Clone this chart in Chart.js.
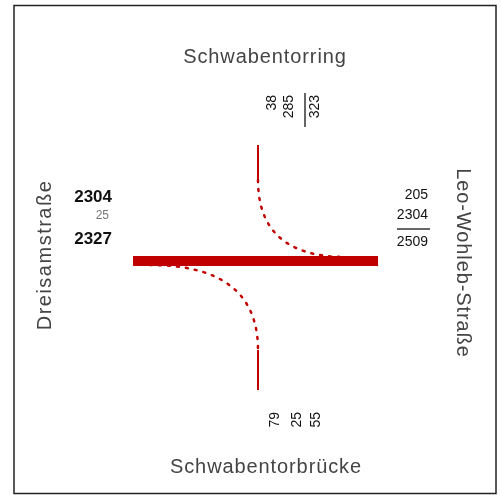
<!DOCTYPE html>
<html>
<head>
<meta charset="utf-8">
<script src="https://cdn.jsdelivr.net/npm/chart.js@4/dist/chart.umd.min.js"></script>
<style>
  html, body { margin: 0; padding: 0; background: #fff; }
  canvas { display: block; }
</style>
</head>
<body>
<canvas id="flowChart" width="502" height="498"></canvas>
<script>
// street arms: north, east, south, west
const arms = ["Schwabentorring", "Leo-Wohleb-Straße", "Schwabentorbrücke", "Dreisamstraße"];

// counts shown next to each arm
const northCounts = ["38", "285", "323"];
const eastCounts = ["205", "2304", "2509"];
const southCounts = ["79", "25", "55"];
const westCounts = ["2304", "25", "2327"];

// turning flows
const flowFrom = ["Dreisamstraße", "Schwabentorring", "Dreisamstraße"];
const flowTo = ["Leo-Wohleb-Straße", "Leo-Wohleb-Straße", "Schwabentorbrücke"];
const flowValue = [2304, 205, 25];

// layout (pixels, y down)
const centre = { x: 258, y: 261 };
const armEnd = {
	"Schwabentorring": [0, -116],
	"Leo-Wohleb-Straße": [120, 0],
	"Schwabentorbrücke": [0, 129],
	"Dreisamstraße": [-125, 0],
};
// radius along the from-arm, radius along the to-arm, lane shift of the corner
const turnShape = {
	"Schwabentorring>Leo-Wohleb-Straße": [81, 88, [0, -4]],
	"Dreisamstraße>Schwabentorbrücke": [108, 89, [0, 4]],
};
const red = "#c00000";
const maxWidth = 10;

function unit(v) {
	const len = Math.hypot(v[0], v[1]);
	return [v[0] / len, v[1] / len];
}

function pt(dx, dy) {
	return { x: centre.x + dx, y: centre.y + dy };
}

const datasets = [];
flowValue.forEach((value, i) => {
	const from = flowFrom[i];
	const to = flowTo[i];
	const width = Math.max(2, (value / flowValue[0]) * maxWidth);
	const a = armEnd[from];
	const b = armEnd[to];
	const base = { showLine: true, pointRadius: 0, borderColor: red, borderWidth: width, fill: false };
	if (a[0] * b[0] + a[1] * b[1] < 0) {
		datasets.push({ ...base, data: [pt(a[0], a[1]), pt(b[0], b[1])], order: 0 });
		return;
	}
	const [r1, r2, shift] = turnShape[from + ">" + to];
	const u = unit(a);
	const v = unit(b);
	// shift the path sideways on the arm it runs parallel to the bar
	const p1 = [u[0] * r1 + (u[0] ? shift[0] : 0), u[1] * r1 + (u[0] ? shift[1] : 0)];
	const p2 = [v[0] * r2 + (v[0] ? shift[0] : 0), v[1] * r2 + (v[0] ? shift[1] : 0)];
	const c = shift;
	datasets.push({ ...base, data: [pt(a[0], a[1]), pt(p1[0], p1[1])], order: 2 });
	datasets.push({ ...base, data: [pt(p2[0], p2[1]), pt(b[0], b[1])], order: 2 });
	// curved turn (quadratic bezier through the corner)
	const curve = [];
	for (let k = 0; k <= 40; k++) {
		const t = k / 40;
		const x = (1 - t) * (1 - t) * p1[0] + 2 * (1 - t) * t * c[0] + t * t * p2[0];
		const y = (1 - t) * (1 - t) * p1[1] + 2 * (1 - t) * t * c[1] + t * t * p2[1];
		curve.push(pt(x, y));
	}
	datasets.push({ ...base, data: curve, borderWidth: 2.5, borderDash: [2, 7], borderCapStyle: "round", order: 1 });
});

const labelPlugin = {
	id: "labels",
	afterDatasetsDraw(chart) {
		const ctx = chart.ctx;
		ctx.save();
		// frame
		ctx.strokeStyle = "#222";
		ctx.lineWidth = 1.5;
		ctx.strokeRect(14, 5.5, 482, 488);

		function text(str, x, y, angle, align, font, color, spacing) {
			ctx.save();
			ctx.translate(x, y);
			ctx.rotate(angle);
			ctx.font = font;
			ctx.fillStyle = color;
			ctx.textAlign = align;
			ctx.textBaseline = "middle";
			ctx.letterSpacing = spacing || "0px";
			ctx.fillText(str, 0, 0);
			ctx.restore();
		}
		const nameFont = '20px "Liberation Sans", Arial, sans-serif';
		const grey = "#444";
		text(arms[0], 265, 57, 0, "center", nameFont, grey, "0.9px");
		text(arms[1], 463, 263, Math.PI / 2, "center", nameFont, grey, "0.9px");
		text(arms[2], 266, 467, 0, "center", nameFont, grey, "0.9px");
		text(arms[3], 45, 255, -Math.PI / 2, "center", nameFont, grey, "1.5px");

		const numFont = '14px "Liberation Sans", Arial, sans-serif';
		const westFont = 'bold 17px "Liberation Sans", Arial, sans-serif';
		const dark = "#111";
		// west
		text(westCounts[0], 112, 197, 0, "right", westFont, dark);
		text(westCounts[1], 109, 216, 0, "right", '12px "Liberation Sans", Arial, sans-serif', "#777");
		text(westCounts[2], 112, 239, 0, "right", westFont, dark);
		// east
		text(eastCounts[0], 428, 195, 0, "right", numFont, dark);
		text(eastCounts[1], 428, 215, 0, "right", numFont, dark);
		text(eastCounts[2], 428, 242, 0, "right", numFont, dark);
		ctx.strokeStyle = "#333";
		ctx.lineWidth = 1.5;
		ctx.beginPath();
		ctx.moveTo(397, 229);
		ctx.lineTo(430, 229);
		ctx.stroke();
		// north
		text(northCounts[0], 272, 95, -Math.PI / 2, "right", numFont, dark);
		text(northCounts[1], 289, 95, -Math.PI / 2, "right", numFont, dark);
		text(northCounts[2], 315, 95, -Math.PI / 2, "right", numFont, dark);
		ctx.beginPath();
		ctx.moveTo(305, 93);
		ctx.lineTo(305, 127);
		ctx.stroke();
		// south
		text(southCounts[0], 275, 412, -Math.PI / 2, "right", numFont, dark);
		text(southCounts[1], 297, 412, -Math.PI / 2, "right", numFont, dark);
		text(southCounts[2], 316, 412, -Math.PI / 2, "right", numFont, dark);
		ctx.restore();
	},
};

new Chart(document.getElementById("flowChart"), {
	type: "scatter",
	data: { datasets: datasets },
	options: {
		responsive: false,
		animation: false,
		layout: { padding: 0 },
		plugins: { legend: { display: false }, tooltip: { enabled: false } },
		scales: {
			x: { display: false, min: 0, max: 502 },
			y: { display: false, min: 0, max: 498, reverse: true },
		},
	},
	plugins: [labelPlugin],
});
</script>
</body>
</html>
